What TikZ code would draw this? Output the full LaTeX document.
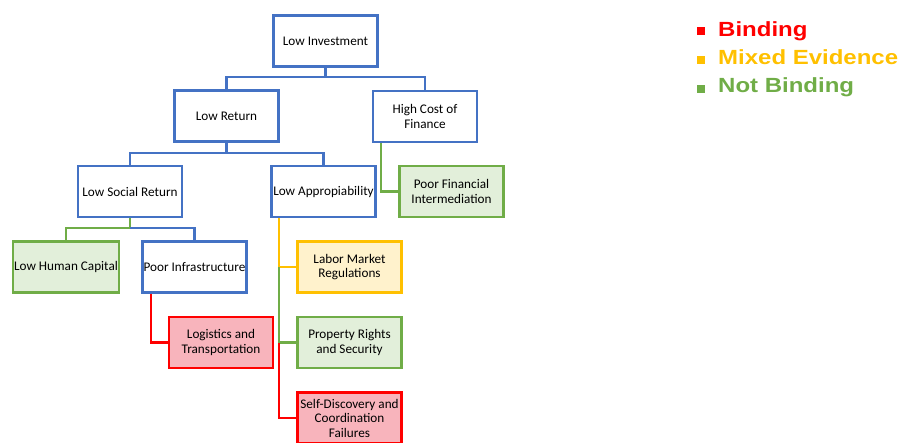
\documentclass[tikz,border=0pt]{standalone}
\usepackage{fontspec}
\setmainfont{Carlito}
\newfontfamily\legfont{Liberation Sans}
\definecolor{cblue}{HTML}{4472C4}
\definecolor{cgreen}{HTML}{70AD47}
\definecolor{cyellow}{HTML}{FFC000}
\definecolor{cred}{HTML}{FF0000}
\definecolor{fgreen}{HTML}{E2EFDA}
\definecolor{fyellow}{HTML}{FFF2CC}
\definecolor{fred}{HTML}{F8B4BC}
\newcommand{\legtext}[1]{\scalebox{1.17}[1]{#1}}
\begin{document}
\begin{tikzpicture}[x=1pt,y=-1pt,
  box/.style={draw, line width=2.5pt, minimum width=104pt, minimum height=51pt, inner sep=1pt,
    align=center, font=\fontsize{13.2}{14.5}\selectfont},
  bbox/.style={box, draw=cblue, fill=white},
  gbox/.style={box, draw=cgreen, fill=fgreen},
  ybox/.style={box, draw=cyellow, fill=fyellow},
  rbox/.style={box, draw=cred, fill=fred},
  conn/.style={line width=2.4pt},
  leg/.style={anchor=base west, font=\legfont\bfseries\fontsize{20.5}{24}\selectfont, inner sep=0pt}
]
\useasboundingbox (0,0) rectangle (900,442);
\node[bbox] (inv) at (325.5,41) {Low Investment};
\node[bbox] (ret) at (226.5,116) {Low Return};
\node[bbox] (fin) at (425,116.5) {High Cost of\\Finance};
\node[bbox] (soc) at (130,191.5) {Low Social Return};
\node[bbox] (appr) at (323.5,191.5) {Low Appropiability};
\node[gbox] (pfi) at (451.5,191.5) {Poor Financial\\Intermediation};
\node[gbox] (hum) at (66,267) {Low Human Capital};
\node[bbox] (infra) at (194.5,267) {Poor Infrastructure};
\node[rbox] (log) at (221,342.5) {Logistics and\\Transportation};
\node[ybox] (lab) at (349.5,267) {Labor Market\\Regulations};
\node[gbox] (prop) at (349.5,342.5) {Property Rights\\and Security};
\node[rbox] (self) at (349.5,418) {Self-Discovery and\\Coordination\\Failures};

\draw[conn, cblue] (inv.south) -- ++(0,9) coordinate (j1) -| (ret.north);
\draw[conn, cblue] (j1) -| (fin.north);
\draw[conn, cblue] (ret.south) -- ++(0,10) coordinate (j2) -| (soc.north);
\draw[conn, cblue] (j2) -| (appr.north);
\coordinate (f0) at ([xshift=9pt]fin.south west);
\draw[conn, cgreen] (f0) |- (pfi.west);
\draw[conn, cgreen] (soc.south) -- ++(0,10) coordinate (j3) -| (hum.north);
\draw[conn, cblue] (j3) -| (infra.north);
\coordinate (i0) at ([xshift=10pt]infra.south west);
\draw[conn, cred] (i0) |- (log.west);
\coordinate (a0) at ([xshift=9pt]appr.south west);
\draw[conn, cyellow] (a0) |- (lab.west);
\draw[conn, cgreen] (a0 |- lab.west) |- (prop.west);
\draw[conn, cred] (a0 |- prop.west) |- (self.west);

\fill[cred] (697,27) rectangle (705,35);
\node[leg, text=cred] (l1) at (718,36) {\legtext{Binding}};
\fill[cyellow] (697,56) rectangle (705,64);
\node[leg, text=cyellow] (l2) at (718,64) {\legtext{Mixed Evidence}};
\fill[cgreen] (697,85) rectangle (705,93);
\node[leg, text=cgreen] (l3) at (718,92.5) {\legtext{Not Binding}};
\end{tikzpicture}
\end{document}
